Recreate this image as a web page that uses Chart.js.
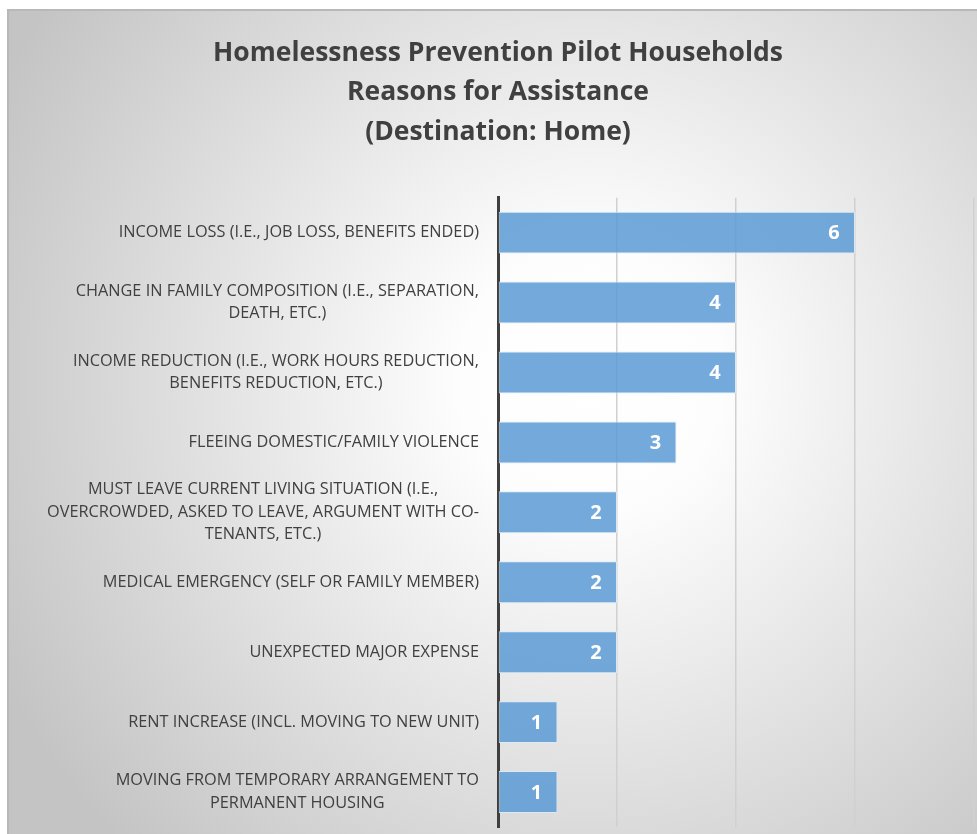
<!DOCTYPE html>
<html>
<head>
<meta charset="utf-8">
<script src="https://cdn.jsdelivr.net/npm/chart.js@4.4.1/dist/chart.umd.min.js"></script>
<style>
  html, body { margin: 0; padding: 0; background: #fff; }
  #wrap { width: 977px; height: 834px; }
</style>
</head>
<body>
<div id="wrap"><canvas id="reasonChart"></canvas></div>
<script>
// 데이터
var titleLines = ['Homelessness Prevention Pilot Households', 'Reasons for Assistance', '(Destination: Home)'];
var reasonLabels = [
	['INCOME LOSS (I.E., JOB LOSS, BENEFITS ENDED)'],
	['CHANGE IN FAMILY COMPOSITION (I.E., SEPARATION,', 'DEATH, ETC.)'],
	['INCOME REDUCTION (I.E., WORK HOURS REDUCTION,', 'BENEFITS REDUCTION, ETC.)'],
	['FLEEING DOMESTIC/FAMILY VIOLENCE'],
	['MUST LEAVE CURRENT LIVING SITUATION (I.E.,', 'OVERCROWDED, ASKED TO LEAVE, ARGUMENT WITH CO-', 'TENANTS, ETC.)'],
	['MEDICAL EMERGENCY (SELF OR FAMILY MEMBER)'],
	['UNEXPECTED MAJOR EXPENSE'],
	['RENT INCREASE (INCL. MOVING TO NEW UNIT)'],
	['MOVING FROM TEMPORARY ARRANGEMENT TO', 'PERMANENT HOUSING']
];
var householdCounts = [6, 4, 4, 3, 2, 2, 2, 1, 1];
var axisMin = 0;
var axisMax = 8;
var axisStep = 2;

var labelFont = '16.3px "Open Sans"';
var AXIS_X = 498; // 세로축 위치

// 배경 (방사형 그라데이션 + 테두리)
var backgroundPlugin = {
	id : 'bgGradient',
	beforeDraw : function(chart) {
		var ctx = chart.ctx;
		var w = chart.width, h = chart.height;
		ctx.save();
		ctx.fillStyle = '#ffffff';
		ctx.fillRect(0, 0, w, h);
		var grad = ctx.createRadialGradient(590, 380, 0, 590, 380, 660);
		grad.addColorStop(0, '#ffffff');
		grad.addColorStop(0.2, '#fdfdfd');
		grad.addColorStop(1, '#c4c4c4');
		ctx.fillStyle = grad;
		ctx.fillRect(8, 10, w - 8, h - 10);
		ctx.strokeStyle = '#b8b8b8';
		ctx.lineWidth = 2;
		ctx.beginPath();
		ctx.moveTo(8, h);
		ctx.lineTo(8, 10);
		ctx.lineTo(w, 10);
		ctx.stroke();
		ctx.restore();
	}
};

// 카테고리 라벨 (여러 줄은 가운데 정렬, 블록은 오른쪽 정렬)
var categoryLabelPlugin = {
	id : 'categoryLabels',
	afterDraw : function(chart) {
		var ctx = chart.ctx;
		var yScale = chart.scales.y;
		var lineH = 22.5;
		ctx.save();
		ctx.font = labelFont;
		ctx.fillStyle = '#404040';
		ctx.textAlign = 'center';
		ctx.textBaseline = 'middle';
		for (var i = 0; i < reasonLabels.length; i++) {
			var lines = reasonLabels[i];
			var maxW = 0;
			for (var j = 0; j < lines.length; j++) {
				maxW = Math.max(maxW, ctx.measureText(lines[j]).width);
			}
			var cx = AXIS_X - 19 - maxW / 2;
			var cy = yScale.getPixelForValue(i);
			var startY = cy - (lines.length - 1) * lineH / 2;
			for (var k = 0; k < lines.length; k++) {
				ctx.fillText(lines[k], cx, startY + k * lineH);
			}
		}
		ctx.restore();
	}
};

// 막대 안쪽 끝 값 표시
var valueLabelPlugin = {
	id : 'valueLabels',
	afterDatasetsDraw : function(chart) {
		var ctx = chart.ctx;
		var meta = chart.getDatasetMeta(0);
		ctx.save();
		ctx.font = 'bold 20px "Open Sans"';
		ctx.fillStyle = '#ffffff';
		ctx.textAlign = 'center';
		ctx.textBaseline = 'middle';
		meta.data.forEach(function(bar, i) {
			ctx.fillText(String(householdCounts[i]), bar.x - 21, bar.y + 1);
		});
		ctx.restore();
	}
};

var ctx1 = document.getElementById('reasonChart').getContext('2d');
var reasonChart = new Chart(ctx1, {
	type : 'bar',
	data : {
		labels : reasonLabels,
		datasets : [ {
			data : householdCounts,
			backgroundColor : 'rgba(91, 155, 213, 0.85)',
			borderColor : 'rgba(220, 234, 247, 0.9)',
			borderWidth : 1,
			borderSkipped : false,
			barPercentage : 0.6,
			categoryPercentage : 1
		} ]
	},
	options : {
		indexAxis : 'y',
		responsive : true,
		maintainAspectRatio : false,
		animation : false,
		layout : {
			padding : { left : 22, right : 3, top : 10, bottom : 7 }
		},
		plugins : {
			legend : { display : false },
			tooltip : { enabled : false },
			title : {
				display : true,
				text : titleLines,
				color : '#404040',
				font : { family : 'Open Sans', size : 26.5, weight : 'bold', lineHeight : 1.48 },
				padding : { top : 24, bottom : 46 }
			}
		},
		scales : {
			x : {
				min : axisMin,
				max : axisMax,
				ticks : { display : false, stepSize : axisStep },
				grid : { color : '#d0d0d0', lineWidth : 1.5, drawTicks : false },
				border : { display : false }
			},
			y : {
				ticks : { display : false },
				grid : { display : false, drawTicks : false },
				border : { display : true, color : '#3f3f3f', width : 3 },
				afterFit : function(scale) {
					scale.width = AXIS_X - 22;
				}
			}
		}
	},
	plugins : [ backgroundPlugin, categoryLabelPlugin, valueLabelPlugin ]
});
</script>
</body>
</html>
